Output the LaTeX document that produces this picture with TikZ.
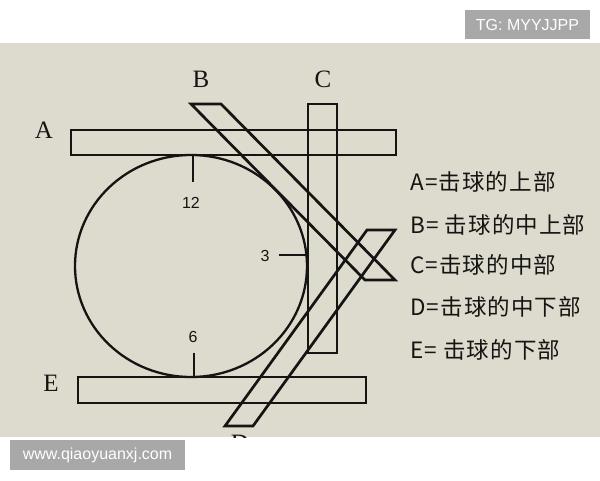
\documentclass[tikz,border=0pt]{standalone}
\usepackage{fontspec}
\setmainfont{Liberation Serif}
\setsansfont{Liberation Sans}
\newfontfamily\cjk[LetterSpace=5]{Noto Sans CJK SC}
\definecolor{paper}{RGB}{221,218,206}
\definecolor{ink}{RGB}{22,20,18}
\definecolor{wm}{RGB}{168,168,168}
\begin{document}
\begin{tikzpicture}[x=1pt,y=-1pt,
  bar/.style={draw=ink, line width=2.7pt, line join=miter},
  ball/.style={draw=ink, line width=2.3pt},
  tick/.style={draw=ink, line width=2.2pt},
  letter/.style={text=ink, font=\fontsize{25}{25}\selectfont, inner sep=0pt},
  clocknum/.style={text=ink, font=\sffamily\fontsize{16}{16}\selectfont, inner sep=0pt},
  legend/.style={text=ink, anchor=west, font=\cjk\fontsize{22.5}{22.5}\selectfont, inner sep=0pt},
  wmbox/.style={fill=wm, text=white, font=\sffamily\fontsize{16}{16}\selectfont, inner sep=0pt}]
\useasboundingbox (0,0) rectangle (600,480);
\fill[white] (0,0) rectangle (600,480);
\fill[paper] (0,43) rectangle (600,437);

% ball
\draw[ball] (191,266) ellipse [x radius=116, y radius=111];
\draw[tick] (193,156) -- (193,182);
\draw[tick] (194,353) -- (194,377);
\draw[tick] (279,255) -- (307,255);
\node[clocknum] (n12) at (191,203) {12};
\node[clocknum] (n6) at (193,337) {6};
\node[clocknum] (n3) at (265,256) {3};

% cue positions
\draw[bar] (71,130) rectangle (396,155);
\draw[bar] (308,104) rectangle (337,353);
\draw[bar] (78,377) rectangle (366,403);
\draw[bar] (191,104) -- (221,104) -- (395,280) -- (365,280) -- cycle;
\draw[bar] (367,230) -- (395,230) -- (253,426) -- (225,426) -- cycle;

% letters
\node[letter] (lA) at (44,130) {A};
\node[letter] (lB) at (201,79) {B};
\node[letter] (lC) at (323,79) {C};
\node[letter] (lE) at (51,383) {E};
\begin{scope}
\clip (0,43) rectangle (600,437);
\node[letter] (lD) at (240,443) {D};
\end{scope}

% legend
\node[legend] (ta) at (410,182) {A=击球的上部};
\node[legend] (tb) at (410,225) {B= 击球的中上部};
\node[legend] (tc) at (410,265) {C=击球的中部};
\node[legend] (td) at (410,307) {D=击球的中下部};
\node[legend] (te) at (410,350) {E= 击球的下部};

% watermarks
\node[wmbox, minimum width=125pt, minimum height=29pt] (tg) at (527.5,24.5) {TG: MYYJJPP};
\node[wmbox, minimum width=175pt, minimum height=30pt] (www) at (97.5,455) {www.qiaoyuanxj.com};
\end{tikzpicture}
\end{document}
